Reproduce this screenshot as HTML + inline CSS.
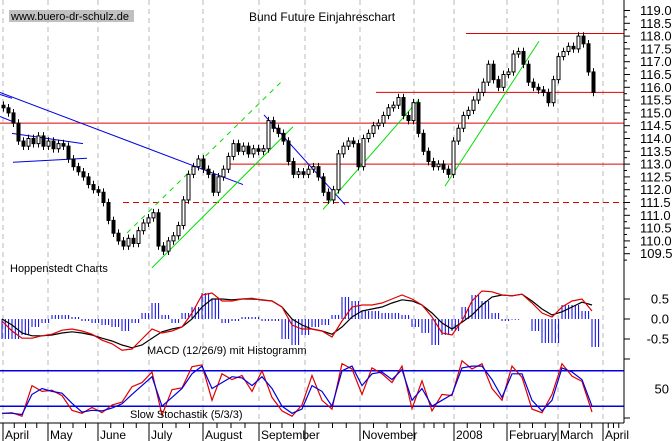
<!DOCTYPE html>
<html><head><meta charset="utf-8">
<style>
html,body{margin:0;padding:0;background:#fff;}
svg{display:block;font-family:"Liberation Sans",sans-serif;}
</style></head>
<body>
<svg id="chart" width="672" height="441" viewBox="0 0 672 441" xmlns="http://www.w3.org/2000/svg">
<rect x="0" y="0" width="672" height="441" fill="#fff"/>
<g id="grid"></g>
<g id="annot"></g>
<g id="candles"></g>
<g id="macd"></g>
<g id="stoch"></g>
<g id="axes"></g>
<rect x="9" y="10" width="125" height="12" fill="#c0c0c0"/>
<text x="11" y="20" font-size="11" fill="#000">www.buero-dr-schulz.de</text>
<text x="249" y="21" font-size="12" fill="#000">Bund Future Einjahreschart</text>
<text x="10" y="272" font-size="11" fill="#000">Hoppenstedt Charts</text>
<text x="147" y="354" font-size="11" fill="#000">MACD (12/26/9) mit Histogramm</text>
<text x="130" y="418" font-size="11" fill="#000">Slow Stochastik (5/3/3)</text>
</svg>
<script>
// ---- data ----
const monthLabels = ["April","May","June","July","August","September","","November","","2008","February","March","April"];
const monthPos = [3,48,98,149,203,259,305,360,414,454,507,558,603];
const priceTicks = [119.0,118.5,118.0,117.5,117.0,116.5,116.0,115.5,115.0,114.5,114.0,113.5,113.0,112.5,112.0,111.5,111.0,110.5,110.0,109.5];
const closes = [115.2,115.0,114.6,113.9,113.7,114.0,113.8,114.1,113.7,113.9,113.6,113.8,113.7,113.2,112.9,112.7,112.5,112.2,112.0,111.9,111.5,110.8,110.3,110.0,109.8,110.1,109.9,110.4,110.7,110.9,111.1,109.8,109.6,110.0,110.2,110.6,111.6,112.6,112.9,113.2,112.8,112.6,111.9,112.5,112.8,113.3,113.8,113.5,113.7,113.4,113.6,113.5,113.6,114.7,114.4,114.2,113.9,113.1,112.6,112.7,112.6,112.8,112.9,112.5,111.9,111.6,112.0,113.4,113.7,113.9,113.8,112.9,114.0,114.2,114.5,114.6,114.9,115.2,115.3,115.6,114.9,114.7,115.4,114.2,113.5,113.1,112.9,113.0,112.8,112.6,113.9,114.4,114.9,115.1,115.5,115.8,116.2,116.9,116.3,116.0,116.5,116.6,117.3,117.4,116.9,116.2,116.0,115.9,115.8,115.4,116.3,117.2,117.4,117.6,117.5,118.0,117.7,116.6,115.8];
const macdTicks = [0.5,0.0,-0.5];
const macdRed = [-0.05,-0.3,-0.48,-0.48,-0.42,-0.38,-0.28,-0.25,-0.3,-0.38,-0.53,-0.62,-0.78,-0.75,-0.5,-0.25,-0.35,-0.3,-0.2,0.15,0.6,0.65,0.45,0.45,0.5,0.52,0.47,0.45,0.3,-0.15,-0.25,-0.25,-0.3,-0.45,-0.05,0.3,0.35,0.35,0.4,0.5,0.6,0.5,0.35,0.05,-0.35,-0.4,-0.05,0.45,0.7,0.68,0.6,0.58,0.62,0.4,0.15,0.05,0.3,0.45,0.5,0.2];
const macdBlack = [0.0,-0.15,-0.35,-0.42,-0.42,-0.4,-0.35,-0.32,-0.35,-0.4,-0.48,-0.55,-0.65,-0.72,-0.65,-0.48,-0.32,-0.25,-0.2,0.0,0.3,0.5,0.5,0.48,0.5,0.5,0.48,0.45,0.3,0.0,-0.15,-0.25,-0.3,-0.38,-0.2,0.05,0.2,0.25,0.3,0.4,0.48,0.45,0.35,0.15,-0.1,-0.25,-0.08,0.1,0.35,0.55,0.6,0.58,0.62,0.45,0.25,0.1,0.18,0.3,0.42,0.35];
const macdHist = [-0.5,-0.5,-0.4,-0.2,-0.1,0.1,0.1,0.05,-0.05,-0.1,-0.15,-0.2,-0.3,-0.1,0.15,0.4,0.1,-0.1,0.15,0.3,0.65,0.5,-0.1,-0.05,0.05,0.05,-0.05,-0.05,-0.5,-0.65,-0.4,-0.2,-0.15,0.1,0.55,0.45,0.2,0.2,0.15,0.15,0.1,-0.2,-0.35,-0.65,-0.4,-0.3,0.3,0.6,0.45,0.15,-0.05,-0.02,0.0,-0.3,-0.6,-0.6,0.35,0.35,0.2,-0.7];
const stochK = [8,9,3,55,45,47,38,13,8,18,9,22,27,53,60,78,5,48,51,87,90,30,75,65,72,45,80,35,12,3,22,72,30,15,92,83,40,85,75,60,88,16,63,12,40,38,97,83,92,50,30,88,69,15,9,40,92,71,62,10];
const stochD = [8,8,6,40,50,45,42,25,10,13,12,17,24,40,55,70,20,35,50,75,88,50,60,70,68,55,70,50,20,8,15,55,45,20,80,88,55,75,78,65,82,30,50,20,30,40,85,88,88,65,35,75,75,30,12,30,85,78,65,20];
const stochTicks = [50];

// ---- scales ----
const NS="http://www.w3.org/2000/svg";
const PLOT_R=624;
function xCandle(i){return 2+i*5;}
function xInd(i){return i*10+2;}
function yPrice(p){return 10.5+(119-p)*25.6;}
function yMacd(v){return 319-v*40;}
function yStoch(v){return 418-v*0.59;}
function mk(tag,attrs,parent){const e=document.createElementNS(NS,tag);for(const k in attrs)e.setAttribute(k,attrs[k]);parent.appendChild(e);return e;}

const grid=document.getElementById('grid');
monthPos.forEach((m,i)=>{
  const l=mk('line',{x1:m,y1:0,x2:m,y2:423,stroke:'#b8b8b8','stroke-dasharray':'5,4','stroke-width':1},grid);
  
  
});

// annotations (analyst lines) in price coordinates
const annot=document.getElementById('annot');
function aline(x1,p1,x2,p2,col,dash,name,w){
  const l=mk('line',{x1:x1,y1:yPrice(p1),x2:x2,y2:yPrice(p2),stroke:col,'stroke-width':w||1},annot);
  if(dash)l.setAttribute('stroke-dasharray',dash);
  
  
}
aline(0,114.6,PLOT_R,114.6,'#e00000',null,'resistance-114-6');
aline(228,113.0,PLOT_R,113.0,'#e00000',null,'support-113-0');
aline(376,115.8,PLOT_R,115.8,'#e00000',null,'resistance-115-8');
aline(466,118.1,PLOT_R,118.1,'#e00000',null,'resistance-118-1');
aline(123,111.5,PLOT_R,111.5,'#e00000','6,4','support-111-5-dashed');
aline(0,115.8,243,112.2,'#0000e0',null,'long-downtrend');
aline(0,115.72,12,115.57,'#0000e0',null,'downtrend-start');
aline(0,114.86,12,114.67,'#0000e0',null,'short-downtrend');
aline(12,114.2,83,113.8,'#0000e0',null,'flag-top');
aline(13,113.07,87,113.23,'#0000e0',null,'flag-bottom');
aline(264,114.92,345,111.42,'#0000e0',null,'sep-downtrend');
aline(152,108.95,293,114.46,'#00e000',null,'uptrend-channel');
aline(127,110.31,283,116.28,'#00e000','5,5','uptrend-channel-dashed');
aline(323,111.23,418,115.48,'#00e000',null,'nov-uptrend');
aline(445,112.14,539,117.8,'#00e000',null,'jan-uptrend');

// candles
const cg=document.getElementById('candles');
closes.forEach((c,i)=>{
  const o=i>0?closes[i-1]:c+0.1;
  const x=xCandle(i);
  const hi=Math.max(o,c)+0.15, lo=Math.min(o,c)-0.15;
  const w=mk('line',{x1:x+1.5,y1:yPrice(hi),x2:x+1.5,y2:yPrice(lo),stroke:'#000','stroke-width':1},cg);
  
  
  const top=yPrice(Math.max(o,c)), bot=yPrice(Math.min(o,c));
  const r=mk('rect',{x:x,y:top,width:3,height:Math.max(1,bot-top),fill:c>=o?'#fff':'#000',stroke:'#000','stroke-width':1},cg);
  
  
});

// MACD
const mg=document.getElementById('macd');
macdHist.forEach((h,i)=>{
  for(let k=0;k<3;k++){
    const x=xInd(i)+k*3.3;
    const b=mk('line',{x1:x,y1:yMacd(0),x2:x,y2:yMacd(h),stroke:'#0000e0','stroke-width':1},mg);
    
    
  }
});
function poly(arr,yf,col,parent,name){
  const pts=arr.map((v,i)=>xInd(i)+','+yf(v).toFixed(1)).join(' ');
  const p=mk('polyline',{points:pts,fill:'none',stroke:col,'stroke-width':1.2},parent);
  
  
}
poly(macdBlack,yMacd,'#000',mg,'macd-signal-line');
poly(macdRed,yMacd,'#e00000',mg,'macd-line');

// Stochastic
const sg=document.getElementById('stoch');
[80,20].forEach(v=>{
  const l=mk('line',{x1:0,y1:yStoch(v),x2:PLOT_R,y2:yStoch(v),stroke:'#0000e0','stroke-width':1.5},sg);
  
  
});
poly(stochK,yStoch,'#e00000',sg,'stoch-k-line');
poly(stochD,yStoch,'#0000e0',sg,'stoch-d-line');

// axes
const ax=document.getElementById('axes');
let e=mk('line',{x1:PLOT_R,y1:0,x2:PLOT_R,y2:423,stroke:'#000'},ax);


e=mk('line',{x1:0,y1:423,x2:PLOT_R,y2:423,stroke:'#000'},ax);


priceTicks.forEach(p=>{
  const y=yPrice(p);
  const t=mk('line',{x1:PLOT_R,y1:y,x2:PLOT_R+6,y2:y,stroke:'#000'},ax);
  
  
  const m=mk('line',{x1:PLOT_R,y1:y+6.4,x2:PLOT_R+3,y2:y+6.4,stroke:'#000'},ax);
  
  
  const tx=mk('text',{x:640,y:y+4.5,'font-size':13,fill:'#000'},ax);
  tx.textContent=p.toFixed(1);
  
  
});
macdTicks.forEach(v=>{
  const y=yMacd(v);
  const t=mk('line',{x1:PLOT_R,y1:y,x2:PLOT_R+6,y2:y,stroke:'#000'},ax);
  
  
  const tx=mk('text',{x:669,y:y+4.5,'font-size':13,fill:'#000','text-anchor':'end'},ax);
  tx.textContent=v.toFixed(1);
  
  
});
[0,100].forEach(v=>{
  const t=mk('line',{x1:PLOT_R,y1:yStoch(v),x2:PLOT_R+6,y2:yStoch(v),stroke:'#000'},ax);
  
  
});
stochTicks.forEach(v=>{
  const tx=mk('text',{x:669,y:yStoch(v)+5,'font-size':13,fill:'#000','text-anchor':'end'},ax);
  tx.textContent=String(v);
  
  
});
monthPos.forEach((m,i)=>{
  const t=mk('line',{x1:m,y1:423,x2:m,y2:441,stroke:'#000'},ax);
  
  
  for(let k=1;k<4;k++){
    const nx=i<monthPos.length-1?monthPos[i+1]:PLOT_R;
    const wx=m+(nx-m)*k/4;
    const w=mk('line',{x1:wx,y1:423,x2:wx,y2:428,stroke:'#000'},ax);
    
    
  }
  if(monthLabels[i]){
    const tx=mk('text',{x:m+2,y:439,'font-size':12,fill:'#000'},ax);
    tx.textContent=monthLabels[i];
    
    
  }
});
</script>
</body></html>
